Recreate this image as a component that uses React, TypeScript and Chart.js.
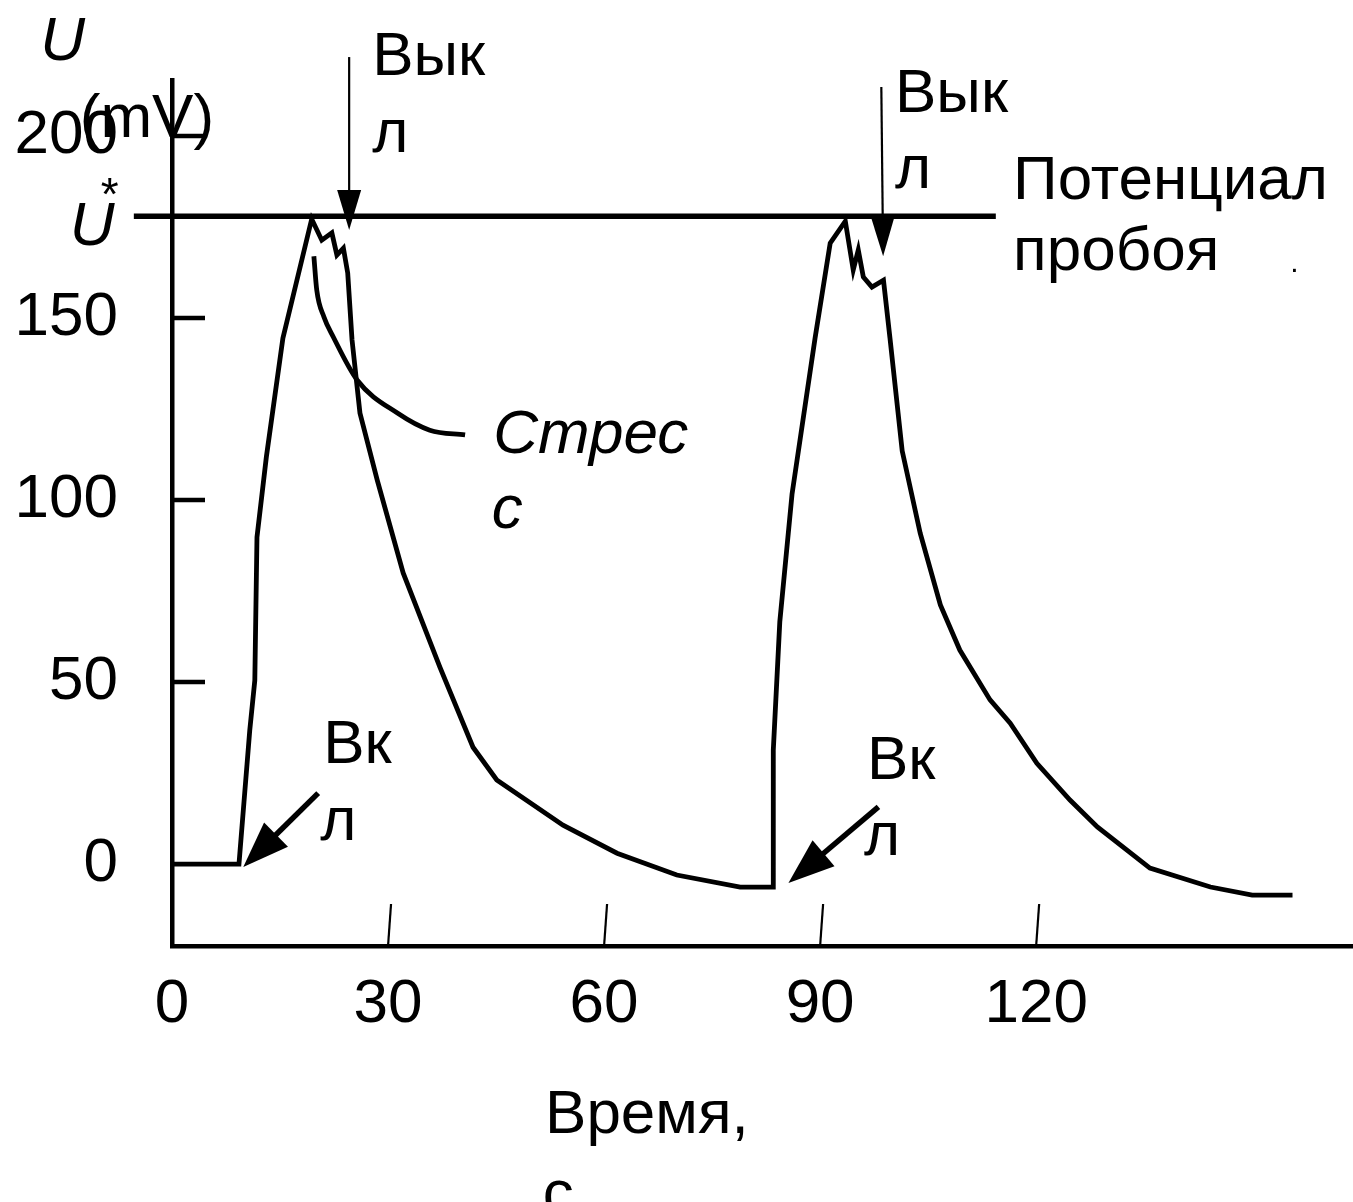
import React, { useEffect, useRef } from "react";
import { Chart, registerables } from "chart.js";

Chart.register(...registerables);

// ---- data (time in s, potential in mV) ----
const curveTime = [
  0, 9.3, 10.8, 11.5, 11.8, 13.1, 15.4, 19.4, 20.8, 22.2, 22.9, 23.8, 24.4, 25.0,
  26.1, 28.5, 32.1, 37.2, 41.8, 45.1, 54.3, 61.8, 70.1, 78.9, 83.5, 83.5, 84.4,
  86.1, 89.3, 91.4, 93.5, 94.6, 95.3, 96.0, 97.2, 98.8, 99.7, 101.4, 103.9, 106.7,
  109.4, 113.6, 116.4, 120.1, 124.7, 128.5, 135.8, 144.2, 150.0, 155.6,
];
const curveU = [
  0, 0, 36.8, 50.5, 89.8, 111.8, 144.5, 177.2, 171.4, 173.4, 167.3, 169.2, 162.4, 144.0,
  123.9, 105.5, 80.0, 54.1, 32.1, 23.1, 10.7, 3.0, -3.0, -6.3, -6.3, 31.3, 66.5,
  101.6, 144.5, 170.6, 176.6, 163.2, 168.7, 161.3, 158.5, 160.4, 144.5, 113.5, 90.9, 71.2,
  58.8, 45.1, 38.7, 27.7, 17.6, 10.2, -1.1, -6.3, -8.5, -8.5,
];

// leader line of the "Стресс" label
const stressTime = [19.7, 20.1, 21.1, 22.4, 25.7, 31.3, 35.8, 40.7];
const stressU = [167.0, 157.7, 150.3, 144.8, 133.0, 123.9, 119.2, 117.9];

// breakdown potential U*
const breakdownU = 178;
const breakdownSpan = [-5.3, 114.4];

const yTickValues = [0, 50, 100, 150, 200];
const yTickLabels = ["0", "50", "100", "150", "200"];
const xTickValues = [0, 30, 60, 90, 120];
const xTickLabels = ["0", "30", "60", "90", "120"];
const yMarkTicks = [50, 100, 150, 200];
const xMarkTicks = [30, 60, 90, 120];

// arrows: [tailT, tailU, tipT, tipU]
const offArrows = [
  [24.6, 221.7, 24.6, 174.2],
  [98.5, 213.5, 98.75, 167.0],
];
const onArrows = [
  [20.3, 19.5, 9.9, -0.8],
  [98.1, 15.7, 85.6, -5.2],
];

// text labels: [text, t, U]
const plainLabels: [string, number, number][] = [
  ["Вык", 27.8, 216.8],
  ["л", 27.8, 195.6],
  ["Вык", 100.4, 206.6],
  ["л", 100.4, 185.7],
  ["Потенциал", 116.8, 182.6],
  ["пробоя", 116.8, 163.2],
  ["Вк", 21.0, 27.7],
  ["л", 20.6, 6.6],
  ["Вк", 96.5, 23.4],
  ["л", 96.1, 2.5],
  ["(mV)", -12.8, 199.7],
  ["Время,", 51.8, -73.9],
  ["с", 51.5, -95.9],
];
const italicLabels: [string, number, number][] = [
  ["Стрес", 44.6, 112.9],
  ["с", 44.4, 92.3],
  ["U", -18.3, 220.9],
  ["U", -14.2, 170.1],
];
const smallLabels: [string, number, number, number][] = [
  ["*", -9.9, 179.7, 46],
  [".", 155.3, 162.6, 30],
];

const FONT = "'Liberation Sans', Arial, Helvetica, sans-serif";

function drawArrow(
  ctx: CanvasRenderingContext2D,
  x0: number, y0: number, x1: number, y1: number,
  shaftW: number, headLen: number, headHalf: number
) {
  const dx = x1 - x0;
  const dy = y1 - y0;
  const L = Math.hypot(dx, dy);
  const ux = dx / L;
  const uy = dy / L;
  const bx = x1 - ux * headLen;
  const by = y1 - uy * headLen;
  ctx.lineWidth = shaftW;
  ctx.lineCap = "butt";
  ctx.beginPath();
  ctx.moveTo(x0, y0);
  ctx.lineTo(bx + ux * 3, by + uy * 3);
  ctx.stroke();
  ctx.beginPath();
  ctx.moveTo(x1, y1);
  ctx.lineTo(bx - uy * headHalf, by + ux * headHalf);
  ctx.lineTo(bx + uy * headHalf, by - ux * headHalf);
  ctx.closePath();
  ctx.fill();
}

const decorPlugin = {
  id: "decor",
  afterDraw(chart: any) {
    const { ctx, chartArea, scales } = chart;
    const xs = scales.x;
    const ys = scales.y;
    const px = (t: number) => xs.getPixelForValue(t);
    const py = (v: number) => ys.getPixelForValue(v);
    ctx.save();
    ctx.strokeStyle = "#000";
    ctx.fillStyle = "#000";

    // y tick marks (inside)
    ctx.lineWidth = 4.5;
    for (const v of yMarkTicks) {
      const y = py(v);
      ctx.beginPath();
      ctx.moveTo(chartArea.left, y);
      ctx.lineTo(chartArea.left + 33, y);
      ctx.stroke();
    }
    // x tick marks (inside, slightly slanted)
    ctx.lineWidth = 2.2;
    for (const t of xMarkTicks) {
      const x = px(t);
      ctx.beginPath();
      ctx.moveTo(x, chartArea.bottom);
      ctx.lineTo(x + 3, chartArea.bottom - 42);
      ctx.stroke();
    }

    // arrows
    for (const a of offArrows) {
      drawArrow(ctx, px(a[0]), py(a[1]), px(a[2]), py(a[3]), 2.2, 40, 12);
    }
    for (const a of onArrows) {
      drawArrow(ctx, px(a[0]), py(a[1]), px(a[2]), py(a[3]), 5.5, 46, 17);
    }

    // texts
    ctx.textBaseline = "alphabetic";
    ctx.textAlign = "left";
    ctx.font = `62px ${FONT}`;
    for (const [s, t, v] of plainLabels) ctx.fillText(s, px(t), py(v));
    ctx.font = `italic 62px ${FONT}`;
    for (const [s, t, v] of italicLabels) ctx.fillText(s, px(t), py(v));
    for (const [s, t, v, size] of smallLabels) {
      ctx.font = `${size}px ${FONT}`;
      ctx.fillText(s, px(t), py(v));
    }
    ctx.restore();
  },
};

export default function App() {
  const canvasRef = useRef<HTMLCanvasElement | null>(null);

  useEffect(() => {
    document.body.style.margin = "0";
    const canvas = canvasRef.current;
    if (!canvas) return;

    const curve = curveTime.map((t, i) => ({ x: t, y: curveU[i] }));
    const stress = stressTime.map((t, i) => ({ x: t, y: stressU[i] }));
    const breakdown = breakdownSpan.map((t) => ({ x: t, y: breakdownU }));

    const chart = new Chart(canvas, {
      type: "line",
      data: {
        datasets: [
          {
            label: "U",
            data: curve,
            borderColor: "#000",
            borderWidth: 4.8,
            pointRadius: 0,
            tension: 0,
            borderJoinStyle: "miter",
            fill: false,
          },
          {
            label: "Стресс",
            data: stress,
            borderColor: "#000",
            borderWidth: 4.8,
            pointRadius: 0,
            tension: 0.4,
            cubicInterpolationMode: "monotone",
            fill: false,
          },
          {
            label: "U*",
            data: breakdown,
            borderColor: "#000",
            borderWidth: 5.5,
            pointRadius: 0,
            fill: false,
            clip: false as any,
          },
        ],
      },
      options: {
        animation: false,
        responsive: true,
        maintainAspectRatio: false,
        layout: { padding: { top: 80, left: 0, right: 0, bottom: 0 } },
        plugins: {
          legend: { display: false },
          tooltip: { enabled: false },
          title: { display: false },
        },
        scales: {
          x: {
            type: "linear",
            min: 0,
            max: 164,
            afterBuildTicks: (scale: any) => {
              scale.ticks = xTickValues.map((v) => ({ value: v }));
            },
            afterFit: (scale: any) => {
              scale.height = 256;
              scale.paddingLeft = 0;
              scale.paddingRight = 0;
            },
            grid: { display: false, drawTicks: false },
            border: { display: true, color: "#000", width: 4.5 },
            ticks: {
              color: "#000",
              padding: 22,
              maxRotation: 0,
              autoSkip: false,
              font: { family: FONT, size: 62 },
              callback: (value: any) => {
                const i = xTickValues.indexOf(Number(value));
                return i >= 0 ? xTickLabels[i] : "";
              },
            },
          },
          y: {
            type: "linear",
            min: -22.5,
            max: 215.4,
            afterBuildTicks: (scale: any) => {
              scale.ticks = yTickValues.map((v) => ({ value: v }));
            },
            afterFit: (scale: any) => {
              scale.width = 172;
              scale.paddingTop = 0;
              scale.paddingBottom = 0;
            },
            grid: { display: false, drawTicks: false },
            border: { display: true, color: "#000", width: 4.5 },
            ticks: {
              color: "#000",
              padding: 54,
              autoSkip: false,
              font: { family: FONT, size: 62 },
              callback: (value: any) => {
                const i = yTickValues.indexOf(Number(value));
                return i >= 0 ? yTickLabels[i] : "";
              },
            },
          },
        },
      },
      plugins: [decorPlugin],
    });

    return () => {
      chart.destroy();
    };
  }, []);

  return (
    <div style={{ width: "1353px", height: "1202px", position: "relative", overflow: "hidden" }}>
      <canvas ref={canvasRef} />
    </div>
  );
}
